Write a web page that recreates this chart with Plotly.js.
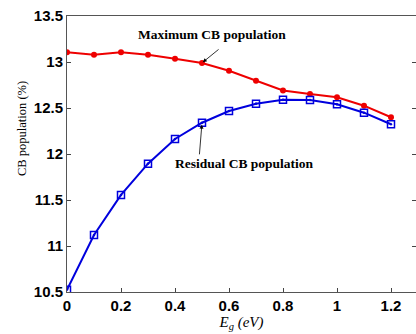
<!DOCTYPE html>
<html><head><meta charset="utf-8">
<script src="https://cdn.plot.ly/plotly-3.0.1.min.js"></script>
<style>html,body{margin:0;padding:0;background:#fff;}</style>
</head><body>
<div id="chart" style="width:416px;height:334px;"></div>
<script>
const eg = [0, 0.1, 0.2, 0.3, 0.4, 0.5, 0.6, 0.7, 0.8, 0.9, 1.0, 1.1, 1.2];
const maxPop = [13.105, 13.08, 13.105, 13.08, 13.036, 12.99, 12.905, 12.797, 12.69, 12.652, 12.616, 12.525, 12.399];
const resPop = [10.525, 11.12, 11.555, 11.895, 12.163, 12.34, 12.467, 12.547, 12.59, 12.587, 12.54, 12.449, 12.323];
const xTicks = [0, 0.2, 0.4, 0.6, 0.8, 1, 1.2];
const yTicks = [10.5, 11, 11.5, 12, 12.5, 13, 13.5];

const serif = 'Liberation Serif, Times New Roman, serif';
const traces = [
  {x: eg, y: maxPop, mode: 'lines+markers', type: 'scatter',
   line: {color: '#ee0000', width: 2},
   marker: {symbol: 'circle', size: 6, color: '#ee0000'}},
  {x: eg, y: resPop, mode: 'lines+markers', type: 'scatter',
   line: {color: '#0000dd', width: 2},
   marker: {symbol: 'square-open-dot', size: 7, color: '#0000dd', line: {width: 1.5}}}
];
const tickFont = {family: 'Liberation Sans, Arial, sans-serif', size: 15, color: '#000', weight: 'bold'};
const annFont = {family: serif, size: 13.5, color: '#000', weight: 'bold'};
const layout = {
  width: 416, height: 334,
  margin: {l: 67, r: 0, t: 16, b: 42},
  showlegend: false,
  paper_bgcolor: '#fff', plot_bgcolor: '#fff',
  xaxis: {range: [0, 1.2926], tickvals: xTicks, ticktext: ['0','0.2','0.4','0.6','0.8','1','1.2'],
    ticks: 'inside', ticklen: 4, tickcolor: '#444', showline: true, linecolor: '#555', linewidth: 1,
    mirror: true, showgrid: false, zeroline: false, tickfont: tickFont,
    title: {text: '<i>E<sub>g</sub> (eV)</i>', font: {family: serif, size: 15, color: '#000'}, standoff: 2}},
  yaxis: {range: [10.5, 13.5], tickvals: yTicks, ticktext: ['10.5','11','11.5','12','12.5','13','13.5'],
    ticks: 'inside', ticklen: 4, tickcolor: '#444', showline: true, linecolor: '#555', linewidth: 1,
    mirror: 'ticks', showgrid: false, zeroline: false, tickfont: tickFont},
  annotations: [
    {xref: 'paper', yref: 'paper', x: -67/349, y: (292 - 129) / 276, xanchor: 'center', yanchor: 'middle',
     text: 'CB population (%)', textangle: -90, showarrow: false, xshift: 22,
     font: {family: serif, size: 12.5, color: '#000'}},
    {xref: 'x', yref: 'y', x: 0.537, y: 13.30, text: 'Maximum CB population', showarrow: false,
     xanchor: 'center', yanchor: 'middle', font: annFont},
    {xref: 'x', yref: 'y', x: 0.5, y: maxPop[5], ax: 0.567, ay: 13.15, axref: 'x', ayref: 'y', text: '',
     showarrow: true, arrowhead: 2, arrowsize: 1, arrowwidth: 0.8, arrowcolor: '#000', standoff: 1},
    {xref: 'x', yref: 'y', x: 0.657, y: 11.90, text: 'Residual CB population', showarrow: false,
     xanchor: 'center', yanchor: 'middle', font: annFont},
    {xref: 'x', yref: 'y', x: 0.5, y: resPop[5], ax: 0.49, ay: 11.98, axref: 'x', ayref: 'y', text: '',
     showarrow: true, arrowhead: 2, arrowsize: 1, arrowwidth: 0.8, arrowcolor: '#000', standoff: 2}
  ]
};
Plotly.newPlot('chart', traces, layout, {displayModeBar: false, staticPlot: true});
</script>
</body></html>
